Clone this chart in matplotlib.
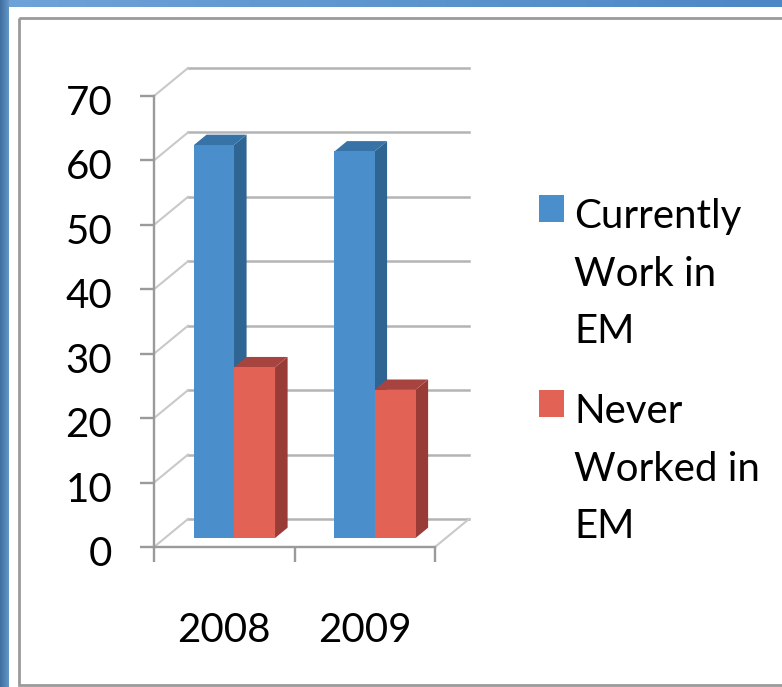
import numpy as np
import matplotlib
matplotlib.use("Agg")
import matplotlib.pyplot as plt
from matplotlib.patches import Polygon, Rectangle
from matplotlib.transforms import ScaledTranslation

plt.rcParams["font.family"] = ["Lato", "DejaVu Sans"]

years = ["2008", "2009"]
work_in_em = [61, 60]
never_worked = [26.5, 23]
y_ticks = [0, 10, 20, 30, 40, 50, 60, 70]
legend_labels = ["Currently\nWork in\nEM", "Never\nWorked in\nEM"]

W, H = 782, 687
GRID = "#b4b4b4"
WALL = "#c9c9c9"
AXIS = "#9a9a9a"
BLUE = "#4a8ecb"
RED = "#e26355"

fig = plt.figure(figsize=(W / 100, H / 100), dpi=100, facecolor="white")

# background: slide bands and the grey frame
bg = fig.add_axes([0, 0, 1, 1], zorder=0)
top_band = np.linspace(0, 1, 256).reshape(1, -1)
left_band = np.linspace(0, 1, 64).reshape(1, -1)
top_cmap = matplotlib.colors.LinearSegmentedColormap.from_list("t", ["#6ea3d8", "#4d87c5"])
left_cmap = matplotlib.colors.LinearSegmentedColormap.from_list("l", ["#3f6f9f", "#6496c8"])
bg.imshow(top_band, extent=[0, W, 7, 0], cmap=top_cmap, aspect="auto")
bg.imshow(left_band, extent=[0, 9, H, 0], cmap=left_cmap, aspect="auto")
bg.set_xlim(0, W)
bg.set_ylim(H, 0)
bg.axis("off")
bg.add_patch(Rectangle((19, 17.5), W + 20, 667, fill=False, ec=AXIS, lw=2))

# plot area, spine to spine
left, right, bottom, top = 154, 435, 547, 96
ax = fig.add_axes([left / W, 1 - bottom / H, (right - left) / W, (bottom - top) / H], zorder=1)
ax.patch.set_alpha(0)
ax.set_xlim(0, 2)
ax.set_ylim(0, 70)

DX = 2 * 34 / (right - left)
DY = 70 * 28 / (bottom - top)


def proj(x, y, d):
    return x + d * DX, y + d * DY


for v in y_ticks:
    ax.plot(*zip(proj(0, v, 1), proj(2, v, 1)), color=GRID, lw=1.8, zorder=1, clip_on=False)
    ax.plot(*zip(proj(0, v, 0), proj(0, v, 1)), color=WALL, lw=1.5, zorder=1, clip_on=False)
ax.plot(*zip(proj(2, 0, 0), proj(2, 0, 1)), color=WALL, lw=1.5, zorder=1, clip_on=False)


def bar3d(x0, x1, v, front, side, cap, z):
    d0, d1 = 0.32, 0.69
    corners = [proj(x0, 0, d0), proj(x1, 0, d0), proj(x1, v, d0), proj(x0, v, d0)]
    ax.add_patch(Polygon(corners, fc=front, ec="none", zorder=z + 0.2, clip_on=False))
    ax.add_patch(Polygon([proj(x1, 0, d0), proj(x1, 0, d1), proj(x1, v, d1), proj(x1, v, d0)],
                         fc=side, ec="none", zorder=z, clip_on=False))
    ax.add_patch(Polygon([proj(x0, v, d0), proj(x1, v, d0), proj(x1, v, d1), proj(x0, v, d1)],
                         fc=cap, ec="none", zorder=z + 0.1, clip_on=False))


width = 0.285
centers = np.arange(len(years)) + 0.5
for c, a, b in zip(centers, work_in_em, never_worked):
    mid = c - 0.008
    bar3d(mid - width, mid, a, BLUE, "#2e6593", "#3873a7", 2)
    bar3d(mid, mid + width + 0.007, b, RED, "#993c38", "#a8443f", 3)

# axes and labels
for s in ["top", "right"]:
    ax.spines[s].set_visible(False)
for s in ["left", "bottom"]:
    ax.spines[s].set_color(AXIS)
    ax.spines[s].set_linewidth(1.7)
    ax.spines[s].set_zorder(1.5)
ax.set_yticks(y_ticks)
ax.tick_params(axis="y", length=10, width=1.7, color=AXIS, labelsize=29, pad=20)
for lab in ax.get_yticklabels():
    lab.set_transform(lab.get_transform() + ScaledTranslation(0, -4 / 100, fig.dpi_scale_trans))
ax.set_xticks([0, 1, 2])
ax.set_xticklabels([])
ax.tick_params(axis="x", which="major", length=11, width=1.7, color=AXIS)
ax.set_xticks(centers, minor=True)
ax.set_xticklabels(years, minor=True)
ax.tick_params(axis="x", which="minor", length=0, labelsize=29, pad=47)

# legend
swatch_tops = [195, 390]
for colour, label, y in zip([BLUE, RED], legend_labels, swatch_tops):
    bg.add_patch(Rectangle((539, y), 25, 27, fc=colour, ec="none"))
    bg.text(574, y + 3, label, fontsize=29, va="top", ha="left", linespacing=1.69, color="black")

fig.savefig("out.png", dpi=100)
